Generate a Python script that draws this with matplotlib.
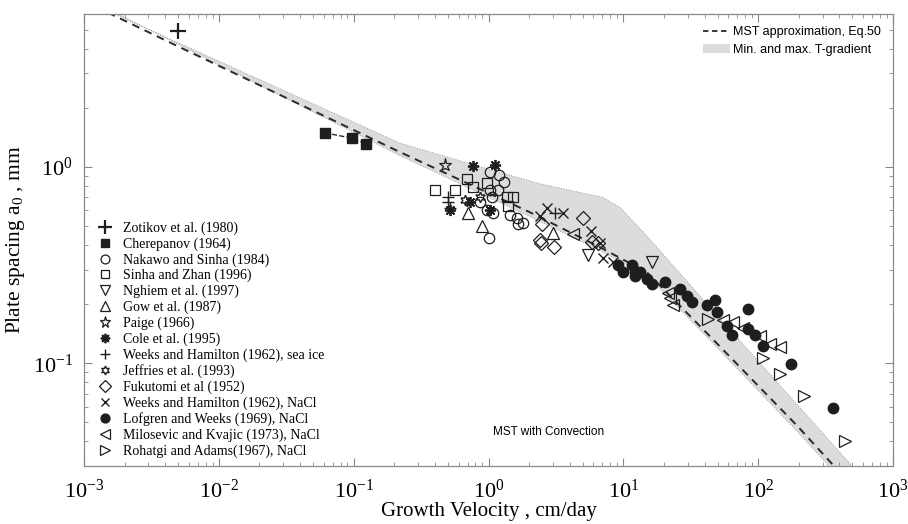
import numpy as np
import matplotlib
matplotlib.use('Agg')
import matplotlib.pyplot as plt
from matplotlib.patches import Patch
from matplotlib.lines import Line2D
from matplotlib.ticker import LogLocator, NullFormatter, FixedLocator

plt.rcParams['font.family'] = ['Liberation Serif', 'DejaVu Serif']
plt.rcParams['mathtext.default'] = 'regular'
plt.rcParams['axes.unicode_minus'] = False

# MST approximation (Eq.50) and the min/max T-gradient band
mst_v = [0.0015, 0.005, 0.22, 2.0, 6.7, 15, 44, 195, 400]
mst_a = [6.1, 4.1, 1.19, 0.59, 0.39, 0.29, 0.137, 0.048, 0.028]
band_up_v = [0.0013, 0.221, 0.52, 2.4, 7.0, 9.5, 15.8, 39, 520]
band_up_a = [6.5, 1.32, 1.11, 0.82, 0.70, 0.62, 0.426, 0.211, 0.029]
band_lo_v = [0.0017, 0.221, 2.04, 6.7, 15, 44, 195, 350]
band_lo_a = [6.1, 1.14, 0.557, 0.375, 0.28, 0.131, 0.045, 0.029]

# measurements
zotikov_v = [0.005]
zotikov_a = [4.9]
cherepanov_v = [0.061, 0.097, 0.124]
cherepanov_a = [1.49, 1.40, 1.31]
nakawo_v = [1.03, 1.20, 1.31, 1.03, 1.06, 1.18, 1.45, 1.63, 1.81, 1.66, 1.01, 0.98, 1.08, 0.87]
nakawo_a = [0.94, 0.91, 0.84, 0.76, 0.70, 0.76, 0.57, 0.55, 0.52, 0.51, 0.436, 0.60, 0.58, 0.66]
sinha_v = [0.40, 0.69, 0.565, 0.98, 0.77, 1.37, 1.52, 1.40]
sinha_a = [0.76, 0.87, 0.76, 0.83, 0.79, 0.70, 0.70, 0.63]
nghiem_v = [5.5, 16.4]
nghiem_a = [0.357, 0.326]
gow_v = [0.71, 0.90, 3.0]
gow_a = [0.58, 0.50, 0.46]
paige_v = [0.476]
paige_a = [1.02]
cole_v = [0.77, 1.12, 0.52, 0.73, 1.03]
cole_a = [1.01, 1.02, 0.60, 0.66, 0.60]
weeks_ice_v = [0.50, 0.50, 3.1, 0.52]
weeks_ice_a = [0.70, 0.66, 0.58, 0.62]
jeffries_v = [0.67, 0.87]
jeffries_a = [0.68, 0.70]
fukutomi_v = [2.5, 2.42, 2.45, 3.07, 5.0, 5.9, 6.5]
fukutomi_a = [0.51, 0.426, 0.41, 0.39, 0.55, 0.416, 0.41]
weeks_nacl_v = [2.72, 3.57, 5.77, 6.73, 7.08, 8.4, 2.42]
weeks_nacl_a = [0.62, 0.58, 0.47, 0.41, 0.345, 0.326, 0.56]
lofgren_v = [9.15, 9.97, 11.6, 12.2, 12.2, 13.3, 15.0, 16.4, 20.4, 26.4, 29.7, 32.4,
             41.8, 48.0, 49.7, 84.4, 58.9, 64.1, 84.4, 95.0, 109, 176, 360]
lofgren_a = [0.318, 0.290, 0.318, 0.290, 0.277, 0.290, 0.270, 0.252, 0.258, 0.238, 0.219, 0.206,
             0.197, 0.209, 0.182, 0.188, 0.154, 0.140, 0.149, 0.139, 0.122, 0.0988, 0.0591]
milosevic_v = [4.24, 21.5, 22.2, 23.4, 55, 65.3, 77.4, 103, 123, 146]
milosevic_a = [0.457, 0.229, 0.216, 0.197, 0.167, 0.162, 0.152, 0.137, 0.125, 0.121]
rohatgi_v = [42.6, 109, 146, 219, 442]
rohatgi_a = [0.169, 0.107, 0.0879, 0.068, 0.0402]

x_ticks = [1e-3, 1e-2, 1e-1, 1e0, 1e1, 1e2, 1e3]
y_ticks = [1e-1, 1e0]

fig = plt.figure(figsize=(9.08, 5.24), dpi=100)
ax = fig.add_axes([0.0925, 0.1107, 0.891, 0.8626])
ax.set_xscale('log')
ax.set_yscale('log')
ax.set_xlim(1e-3, 1e3)
ax.set_ylim(0.03, 6)

ax.fill(np.concatenate([band_up_v, band_lo_v[::-1]]),
        np.concatenate([band_up_a, band_lo_a[::-1]]),
        facecolor='#dcdcdc', edgecolor='#9a9a9a', lw=0.7, ls=':', zorder=1)
ax.plot(mst_v, mst_a, ls='--', color='#2a2a2a', lw=1.4, dashes=(4, 3), zorder=2)
ax.plot(cherepanov_v, cherepanov_a, ls='--', color='#2a2a2a', lw=1.0, zorder=2)

ec = '#1e1e1e'
common = dict(ls='none', mec=ec, zorder=3)
series = [
    (zotikov_v, zotikov_a, 'Zotikov et al. (1980)', dict(marker='+', ms=12, mew=1.6)),
    (cherepanov_v, cherepanov_a, 'Cherepanov (1964)', dict(marker='s', ms=6.5, mfc=ec)),
    (nakawo_v, nakawo_a, 'Nakawo and Sinha (1984)', dict(marker='o', ms=7.5, mfc='none', mew=0.9)),
    (sinha_v, sinha_a, 'Sinha and Zhan (1996)', dict(marker='s', ms=7, mfc='none', mew=0.9)),
    (nghiem_v, nghiem_a, 'Nghiem et al. (1997)', dict(marker='v', ms=8.5, mfc='none', mew=0.9)),
    (gow_v, gow_a, 'Gow et al. (1987)', dict(marker='^', ms=8.5, mfc='none', mew=0.9)),
    (paige_v, paige_a, 'Paige (1966)', dict(marker='*', ms=9.5, mfc='none', mew=0.9)),
    (cole_v, cole_a, 'Cole et al. (1995)', dict(marker=(8, 2, 0), ms=8, mew=1.3)),
    (weeks_ice_v, weeks_ice_a, 'Weeks and Hamilton (1962), sea ice', dict(marker='+', ms=8.5, mew=1.0)),
    (jeffries_v, jeffries_a, 'Jeffries et al. (1993)', dict(marker=(6, 1, 0), ms=7.5, mfc='none', mew=1.0)),
    (fukutomi_v, fukutomi_a, 'Fukutomi et al (1952)', dict(marker='D', ms=7, mfc='none', mew=0.9)),
    (weeks_nacl_v, weeks_nacl_a, 'Weeks and Hamilton (1962), NaCl', dict(marker='x', ms=7, mew=1.0)),
    (lofgren_v, lofgren_a, 'Lofgren and Weeks (1969), NaCl', dict(marker='o', ms=7.5, mfc=ec)),
    (milosevic_v, milosevic_a, 'Milosevic and Kvajic (1973), NaCl', dict(marker='<', ms=8.5, mfc='none', mew=0.9)),
    (rohatgi_v, rohatgi_a, 'Rohatgi and Adams(1967), NaCl', dict(marker='>', ms=8.5, mfc='none', mew=0.9)),
]
handles = []
for v, a, lab, kw in series:
    h, = ax.plot(v, a, label=lab, **common, **kw)
    handles.append(h)

leg1 = ax.legend(handles=handles, loc='lower left', bbox_to_anchor=(0.005, -0.003),
                 frameon=False, fontsize=10, labelspacing=0.17, handlelength=1.0,
                 handletextpad=0.8, numpoints=1, borderpad=0.2, markerscale=0.85)
ax.add_artist(leg1)

h_mst = Line2D([], [], ls='--', color='#2a2a2a', lw=1.3, dashes=(3, 2))
h_band = Patch(facecolor='#dcdcdc', edgecolor='none')
ax.legend([h_mst, h_band], ['MST approximation, Eq.50', 'Min. and max. T-gradient'],
          loc='upper right', frameon=False, handlelength=2.2, handletextpad=0.2,
          labelspacing=0.45, borderaxespad=0.6,
          prop={'family': ['Liberation Sans', 'DejaVu Sans'], 'size': 9})

ax.text(2.77, 0.0447, 'MST with Convection', ha='center', va='center',
        family=['Liberation Sans', 'DejaVu Sans'], fontsize=8.5)

ax.set_xlabel('Growth Velocity , cm/day', fontsize=15, labelpad=-1)
ax.set_ylabel('Plate spacing a$_0$ , mm', fontsize=15.5, labelpad=4)

ax.xaxis.set_major_locator(FixedLocator(x_ticks))
ax.yaxis.set_major_locator(FixedLocator(y_ticks))
ax.xaxis.set_minor_locator(LogLocator(base=10, subs=np.arange(2, 10), numticks=20))
ax.yaxis.set_minor_locator(LogLocator(base=10, subs=np.arange(2, 10), numticks=20))
ax.yaxis.set_minor_formatter(NullFormatter())
ax.xaxis.set_minor_formatter(NullFormatter())
ax.tick_params(which='both', direction='in', top=True, right=True, color='#888888',
               labelsize=16)
ax.tick_params(which='major', length=6, width=0.8)
ax.tick_params(which='minor', length=3, width=0.6)
ax.tick_params(axis='x', which='major', pad=10)
ax.tick_params(axis='y', which='major', pad=8)
for s in ax.spines.values():
    s.set_color('#888888')
    s.set_linewidth(0.9)

fig.savefig('out.png', dpi=100)
